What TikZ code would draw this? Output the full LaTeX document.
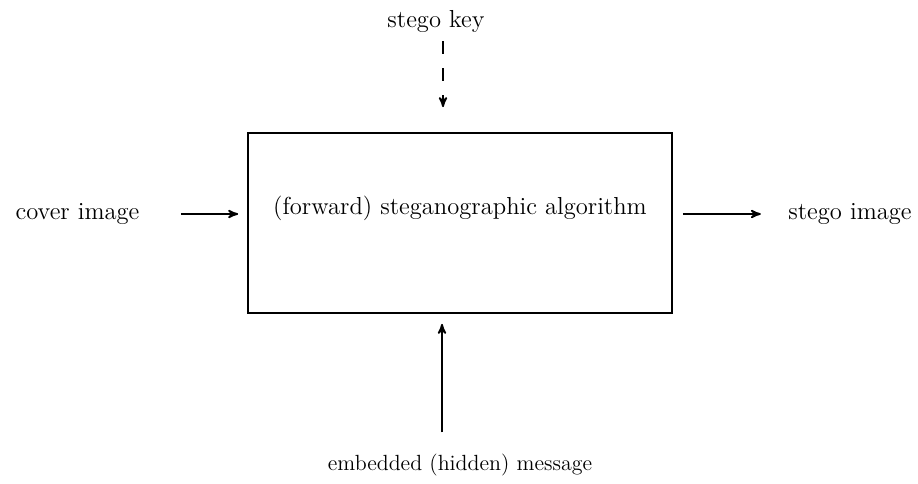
\documentclass[tikz,border=0pt]{standalone}
\usepackage{tikz}
\usetikzlibrary{arrows}

\begin{document}
\begin{tikzpicture}[->,>=stealth',auto,thick,
		every node/.style={font=\fontsize{14}{16}\selectfont}]
		\tikzstyle{FlowStyle}=[line width=1pt]
		\useasboundingbox (0,0) rectangle (18.36,9.66);

		\node at (9.2,5.2) [draw,line width=1pt,minimum width=8.48cm,minimum height=3.6cm,
			label={[yshift=0.3cm]center:(forward) steganographic algorithm}] (algo) {};
		\node at (1.55,5.38) (cover) {cover image};
		\node at (17.0,5.38) (stego) {stego image};
		\node at (8.72,9.24) (key) {stego key};
		\node at (9.2,0.36) [font=\fontsize{12.5}{14}\selectfont] (msg) {embedded (hidden) message};

		\draw[FlowStyle,shorten <=0.7cm,shorten >=0.18cm] (cover.east) -- (cover.east -| algo.west);
		\draw[FlowStyle,shorten <=0.2cm,shorten >=0.42cm] (stego.west -| algo.east) -- (stego.west);
		\draw[FlowStyle,dash pattern=on 0.26cm off 0.28cm,shorten <=0.05cm,shorten >=0.5cm] (key.south -| 8.86,0) -- (algo.north -| 8.86,0);
		\draw[FlowStyle,shorten <=0.3cm,shorten >=0.2cm] (msg.north -| 8.84,0) -- (algo.south -| 8.84,0);
	\end{tikzpicture}
\end{document}
